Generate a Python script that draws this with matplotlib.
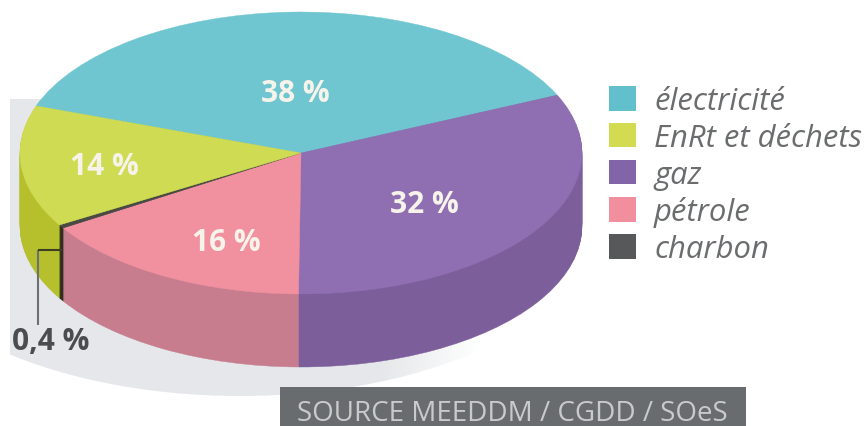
import matplotlib
matplotlib.use("Agg")
import matplotlib.pyplot as plt
import numpy as np
from matplotlib.patches import Ellipse, Patch, Rectangle

categories = ["électricité", "gaz", "pétrole", "charbon", "EnRt et déchets"]
values = [38, 32, 16, 0.4, 14]
value_labels = ["38 %", "32 %", "16 %", "0,4 %", "14 %"]
legend_order = ["électricité", "EnRt et déchets", "gaz", "pétrole", "charbon"]

top_colors = ["#6fc6d0", "#8f6fb2", "#f1909f", "#4a4a45", "#cfdb52"]
side_colors = ["#5aa9b3", "#7c5e9b", "#c87d8f", "#2e2e20", "#b6bf2c"]
legend_colors = {"électricité": "#62c0cc", "EnRt et déchets": "#d3dc50", "gaz": "#8265a8",
                 "pétrole": "#f28f9f", "charbon": "#57585a"}

W, H = 865, 427
plt.rcParams["font.family"] = ["Open Sans", "DejaVu Sans"]

fig = plt.figure(figsize=(W / 100, H / 100), dpi=100, facecolor="white")

# back layer in pixels: the soft shadow, fading out to the right
back = fig.add_axes([0, 0, 1, 1], zorder=0)
shadow = Ellipse((240, 217), 720, 360, fc="#e5e7ea", ec="none")
back.add_patch(shadow)
shadow.set_clip_path(Rectangle((10, 100), 470, 300, transform=back.transData))
fade = np.ones((1, 100, 4))
fade[0, :, 3] = np.linspace(0, 1, 100)
back.imshow(fade, extent=(380, 480, 400, 300), aspect="auto", zorder=3)
back.set_xlim(0, W)
back.set_ylim(H, 0)
back.axis("off")

# pie layer, squashed: 1 unit = 281 px wide, 141 px high
cx, cy, rx, ry = 301, 154, 281, 141
depth = 73
ax = fig.add_axes([0, 0, 1, 1], zorder=1)


def draw_pie(colors, drop):
    wedges, _ = ax.pie(values, colors=colors, startangle=160.5, counterclock=False,
                       center=(0, -drop / ry), wedgeprops={"linewidth": 0.3})
    for w in wedges:
        w.set_edgecolor(w.get_facecolor())


for d in range(depth, 0, -1):
    draw_pie(side_colors, d)
draw_pie(top_colors, 0)
ax.set_aspect("auto")
ax.set_xlim(-cx / rx, (W - cx) / rx)
ax.set_ylim((cy - H) / ry, cy / ry)
ax.axis("off")

# front layer in pixels: labels, leader, legend, source
front = fig.add_axes([0, 0, 1, 1], zorder=2)
front.set_xlim(0, W)
front.set_ylim(H, 0)
front.axis("off")

label_pos = [(295, 94), (424, 205), (226, 243), (51, 342), (104, 167)]
for lab, (x, y) in zip(value_labels, label_pos):
    color = "#4a4d50" if lab == "0,4 %" else "#f6f3ea"
    front.text(x, y, lab, color=color, fontsize=21.5, fontweight="bold", ha="center", va="center")

front.plot([38, 38], [326, 251], color="#6d7072", lw=1.5, solid_capstyle="butt")
front.plot([38, 62], [251, 251], color="#3d4020", lw=1.5, solid_capstyle="butt")

handles = [Patch(fc=legend_colors[c], ec="none") for c in legend_order]
fs = 22.3
fpx = fs / 0.72
leg = front.legend(handles, legend_order, loc="upper left", bbox_to_anchor=(609 / W, 1 - 87 / H),
                   frameon=False, handlelength=27 / fpx, handleheight=26 / fpx,
                   handletextpad=18 / fpx, labelspacing=0.22, borderpad=0, borderaxespad=0,
                   prop={"style": "italic", "size": fs})
for t in leg.get_texts():
    t.set_color("#6a6c6e")

front.add_patch(Rectangle((280, 388), 466, 39, fc="#696c6e", ec="none"))
front.text(512, 414, "SOURCE MEEDDM / CGDD / SOeS", color="#c9cbcb", fontsize=20,
           ha="center", va="center")

fig.savefig("out.png", dpi=100, facecolor="white")
